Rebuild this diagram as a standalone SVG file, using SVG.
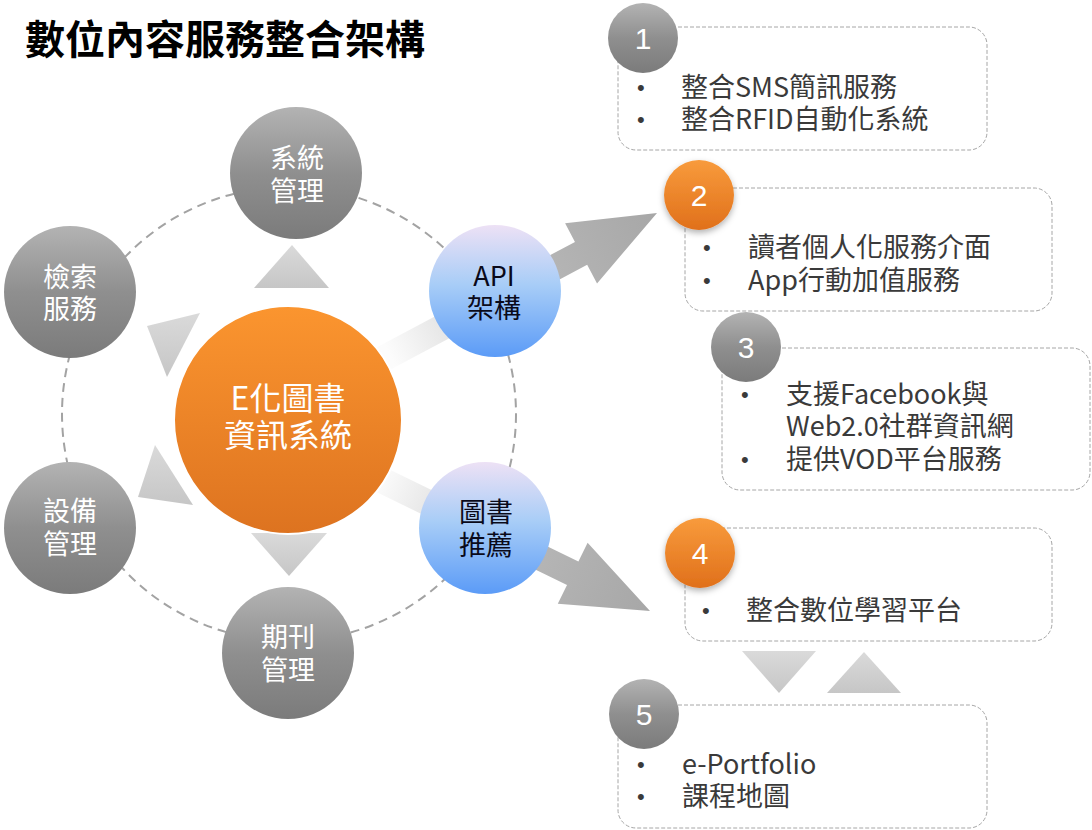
<svg xmlns="http://www.w3.org/2000/svg" width="1092" height="830" viewBox="0 0 1092 830">
<style>
text{font-family:'Noto Sans CJK TC','Noto Sans',sans-serif}
.title{font-size:40px;font-weight:700;fill:#000}
.nt{font-size:27px;fill:#fff;text-anchor:middle}
.nb{font-size:27px;fill:#0a0a1a;text-anchor:middle}
.ct{font-size:32px;fill:#fff;text-anchor:middle}
.bx{fill:#fff;stroke:#a6a6a6;stroke-width:1;stroke-dasharray:4 2}
.bt{font-size:27px;fill:#3a3a3a}
.bu{font-size:22px;fill:#3a3a3a;font-family:'Liberation Sans',Arial,sans-serif}
.num{font-size:30px;fill:#fff;text-anchor:middle;font-family:'Liberation Sans',Arial,sans-serif}
.tri{fill:url(#triG)}
</style>
<defs>
<linearGradient id="grayG" x1="0" y1="0" x2="0" y2="1">
<stop offset="0" stop-color="#b3b3b3"/><stop offset="0.5" stop-color="#8f8f8f"/><stop offset="1" stop-color="#7b7b7b"/>
</linearGradient>
<linearGradient id="orG" x1="0" y1="0" x2="0" y2="1">
<stop offset="0" stop-color="#fb952f"/><stop offset="1" stop-color="#dd7320"/>
</linearGradient>
<linearGradient id="orB" x1="0" y1="0" x2="0" y2="1">
<stop offset="0" stop-color="#f89b3c"/><stop offset="1" stop-color="#e0701b"/>
</linearGradient>
<linearGradient id="blueG" x1="0" y1="0" x2="0" y2="1">
<stop offset="0" stop-color="#ede1f5"/><stop offset="0.45" stop-color="#a8cdf7"/><stop offset="1" stop-color="#5b9bf7"/>
</linearGradient>
<linearGradient id="triG" x1="0" y1="0" x2="0" y2="1">
<stop offset="0" stop-color="#dadada"/><stop offset="1" stop-color="#c6c6c6"/>
</linearGradient>
<linearGradient id="arrG" gradientUnits="userSpaceOnUse" x1="-420" y1="0" x2="0" y2="0">
<stop offset="0" stop-color="#ffffff"/><stop offset="0.28" stop-color="#fcfcfc"/><stop offset="0.45" stop-color="#e2e2e2"/><stop offset="0.62" stop-color="#b9b9b9"/><stop offset="1" stop-color="#a7a7a7"/>
</linearGradient>
<filter id="sh" x="-40%" y="-40%" width="180%" height="180%">
<feDropShadow dx="0" dy="3" stdDeviation="3" flood-color="#000" flood-opacity="0.3"/>
</filter>
</defs>
<rect width="1092" height="830" fill="#fff"/>
<text class="title" x="25" y="54">數位內容服務整合架構</text>

<g id="connectors">
<circle cx="289" cy="414" r="227" fill="none" stroke="#a3a3a3" stroke-width="2" stroke-dasharray="9 6"/>
<polygon transform="translate(657,213) rotate(-28)" fill="url(#arrG)" points="-420,-13 -86,-13 -86,-34 0,0 -86,34 -86,13 -420,13"/>
<polygon transform="translate(650,611) rotate(26)" fill="url(#arrG)" points="-420,-13 -86,-13 -86,-34 0,0 -86,34 -86,13 -420,13"/>
<polygon class="tri" points="292,245 254,288 329,288"/>
<polygon class="tri" points="251,533 327,533 289,576"/>
<polygon class="tri" points="147,326 200,313 167,377"/>
<polygon class="tri" points="138,497 155,445 193,505"/>
<polygon class="tri" points="742,651 816,651 779,693"/>
<polygon class="tri" points="827,693 901,693 864,652"/>
</g>

<g id="center">
<circle cx="288" cy="420" r="114" fill="url(#orG)" stroke="#fff" stroke-width="2"/>
<text class="ct" x="288" y="410">E化圖書</text>
<text class="ct" x="288" y="447">資訊系統</text>
</g>
<g id="n-system">
<circle cx="296" cy="173" r="66" fill="url(#grayG)"/>
<text class="nt" x="297" y="168">系統</text>
<text class="nt" x="297" y="201">管理</text>
</g>
<g id="n-search">
<circle cx="70" cy="292" r="66" fill="url(#grayG)"/>
<text class="nt" x="70" y="287">檢索</text>
<text class="nt" x="70" y="319">服務</text>
</g>
<g id="n-equip">
<circle cx="70" cy="528" r="66" fill="url(#grayG)"/>
<text class="nt" x="70" y="521">設備</text>
<text class="nt" x="70" y="554">管理</text>
</g>
<g id="n-journal">
<circle cx="288" cy="653" r="66" fill="url(#grayG)"/>
<text class="nt" x="288" y="647">期刊</text>
<text class="nt" x="288" y="680">管理</text>
</g>
<g id="n-api">
<circle cx="495" cy="291" r="66" fill="url(#blueG)"/>
<text class="nb" x="494" y="286">API</text>
<text class="nb" x="494" y="318">架構</text>
</g>
<g id="n-recommend">
<circle cx="485" cy="528" r="66" fill="url(#blueG)"/>
<text class="nb" x="486" y="522">圖書</text>
<text class="nb" x="486" y="555">推薦</text>
</g>

<g id="box1">
<rect class="bx" x="618" y="27" width="369" height="123" rx="18"/>
<circle cx="643" cy="38" r="35" fill="url(#grayG)"/>
<text class="num" x="643" y="49">1</text>
<text class="bu" x="637" y="95">•</text>
<text class="bt" x="681" y="97">整合SMS簡訊服務</text>
<text class="bu" x="637" y="127">•</text>
<text class="bt" x="681" y="129">整合RFID自動化系統</text>
</g>
<g id="box2">
<rect class="bx" x="685" y="188" width="367" height="123" rx="18"/>
<circle cx="699" cy="195" r="35" fill="url(#orB)" filter="url(#sh)"/>
<text class="num" x="699" y="206">2</text>
<text class="bu" x="703" y="255">•</text>
<text class="bt" x="748" y="257">讀者個人化服務介面</text>
<text class="bu" x="703" y="288">•</text>
<text class="bt" x="748" y="290">App行動加值服務</text>
</g>
<g id="box3">
<rect class="bx" x="722" y="348" width="368" height="142" rx="18"/>
<circle cx="746" cy="347" r="35" fill="url(#grayG)"/>
<text class="num" x="746" y="358">3</text>
<text class="bu" x="741" y="402">•</text>
<text class="bt" x="786" y="404">支援Facebook與</text>
<text class="bt" x="786" y="436">Web2.0社群資訊網</text>
<text class="bu" x="741" y="467">•</text>
<text class="bt" x="786" y="469">提供VOD平台服務</text>
</g>
<g id="box4">
<rect class="bx" x="685" y="528" width="367" height="113" rx="18"/>
<circle cx="700" cy="553" r="35" fill="url(#orB)" filter="url(#sh)"/>
<text class="num" x="700" y="564">4</text>
<text class="bu" x="702" y="618">•</text>
<text class="bt" x="746" y="620">整合數位學習平台</text>
</g>
<g id="box5">
<rect class="bx" x="618" y="705" width="369" height="123" rx="18"/>
<circle cx="644" cy="714" r="35" fill="url(#grayG)"/>
<text class="num" x="644" y="725">5</text>
<text class="bu" x="637" y="772">•</text>
<text class="bt" x="682" y="774">e-Portfolio</text>
<text class="bu" x="637" y="804">•</text>
<text class="bt" x="682" y="806">課程地圖</text>
</g>
</svg>
